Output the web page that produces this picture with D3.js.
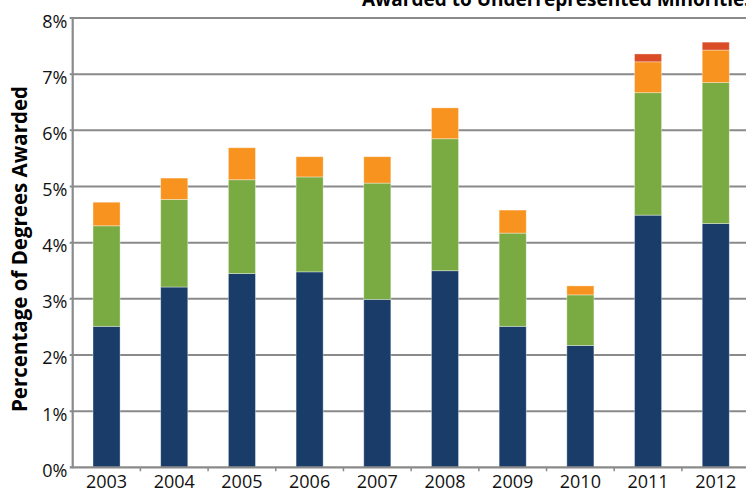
<!DOCTYPE html>
<html>
<head>
<meta charset="utf-8">
<script src="https://cdn.jsdelivr.net/npm/d3@7"></script>
<style>
  html, body { margin: 0; padding: 0; background: #fff; }
  svg { display: block; }
</style>
</head>
<body>
<svg id="chart" width="746" height="489"></svg>
<script>
const years = ["2003","2004","2005","2006","2007","2008","2009","2010","2011","2012"];
const seriesNames = ["Group A","Group B","Group C","Group D"];
const groupA = [2.51,3.21,3.45,3.48,2.99,3.50,2.51,2.17,4.49,4.34];
const groupB = [1.79,1.56,1.67,1.69,2.07,2.35,1.66,0.90,2.18,2.51];
const groupC = [0.42,0.38,0.57,0.36,0.47,0.55,0.41,0.16,0.55,0.58];
const groupD = [0,0,0,0,0,0,0,0,0.14,0.14];
const yTicks = [0,1,2,3,4,5,6,7,8];
const colors = ["#1a3c69","#7aab43","#f7931e","#d94c26"];
const yTitle = "Percentage of Degrees Awarded";
const chartTitle = "Awarded to Underrepresented Minorities";

(function () {
const svg = d3.select("#chart");
const mLeft = 72.7, mRight = 749.6, mTop = 18, mBottom = 467.3;

const rows = years.map((y, i) => ({year: y, A: groupA[i], B: groupB[i], C: groupC[i], D: groupD[i]}));
const stack = d3.stack().keys(["A","B","C","D"])(rows);

const x = d3.scaleBand().domain(years).range([mLeft, mRight]).paddingInner(0.6).paddingOuter(0.3);
const y = d3.scaleLinear().domain([0, 8]).range([mBottom, mTop]);

const grid = "#8a8a8a";

svg.append("g").selectAll("line").data(yTicks.filter(d => d > 0)).join("line")
  .attr("x1", mLeft - 3).attr("x2", mRight)
  .attr("y1", d => y(d)).attr("y2", d => y(d))
  .attr("stroke", grid).attr("stroke-width", 2);

svg.append("g").selectAll("g").data(stack).join("g")
  .attr("fill", (d, i) => colors[i])
  .selectAll("rect").data(d => d.filter(s => s[1] - s[0] > 0)).join("rect")
  .attr("x", d => x(d.data.year))
  .attr("width", x.bandwidth())
  .attr("y", d => y(d[1]))
  .attr("height", d => y(d[0]) - y(d[1]))
  .attr("stroke", "rgba(255,255,255,0.45)")
  .attr("stroke-width", 0.8);

svg.append("line").attr("x1", mLeft).attr("x2", mLeft).attr("y1", mTop - 1).attr("y2", mBottom + 1)
  .attr("stroke", grid).attr("stroke-width", 2.2);
svg.append("line").attr("x1", mLeft - 3).attr("x2", mRight).attr("y1", mBottom).attr("y2", mBottom)
  .attr("stroke", grid).attr("stroke-width", 2.2);
const step = x.step();
svg.append("g").selectAll("line").data(d3.range(1, years.length + 1)).join("line")
  .attr("x1", i => mLeft + i * step).attr("x2", i => mLeft + i * step)
  .attr("y1", mBottom).attr("y2", mBottom + 4)
  .attr("stroke", grid).attr("stroke-width", 1.5);

svg.append("g").selectAll("text").data(yTicks).join("text")
  .attr("x", 67.5)
  .attr("y", d => y(d) + 9.5)
  .attr("text-anchor", "end")
  .attr("font-family", "Open Sans")
  .attr("font-size", 18)
  .attr("fill", "#111")
  .text(d => d + "%");

svg.append("g").selectAll("text").data(years).join("text")
  .attr("x", d => x(d) + x.bandwidth() / 2)
  .attr("y", 487.5)
  .attr("text-anchor", "middle")
  .attr("font-family", "Open Sans")
  .attr("font-size", 18)
  .attr("fill", "#111")
  .text(d => d);

svg.append("text")
  .attr("transform", "translate(27,249) rotate(-90)")
  .attr("text-anchor", "middle")
  .attr("font-family", "Open Sans")
  .attr("font-weight", "bold")
  .attr("font-size", 20.5)
  .attr("fill", "#000")
  .text(yTitle);

svg.append("text")
  .attr("x", 362)
  .attr("y", 6)
  .attr("font-family", "Open Sans")
  .attr("font-weight", "bold")
  .attr("font-size", 19)
  .attr("fill", "#000")
  .text(chartTitle);
})();
</script>
</body>
</html>
